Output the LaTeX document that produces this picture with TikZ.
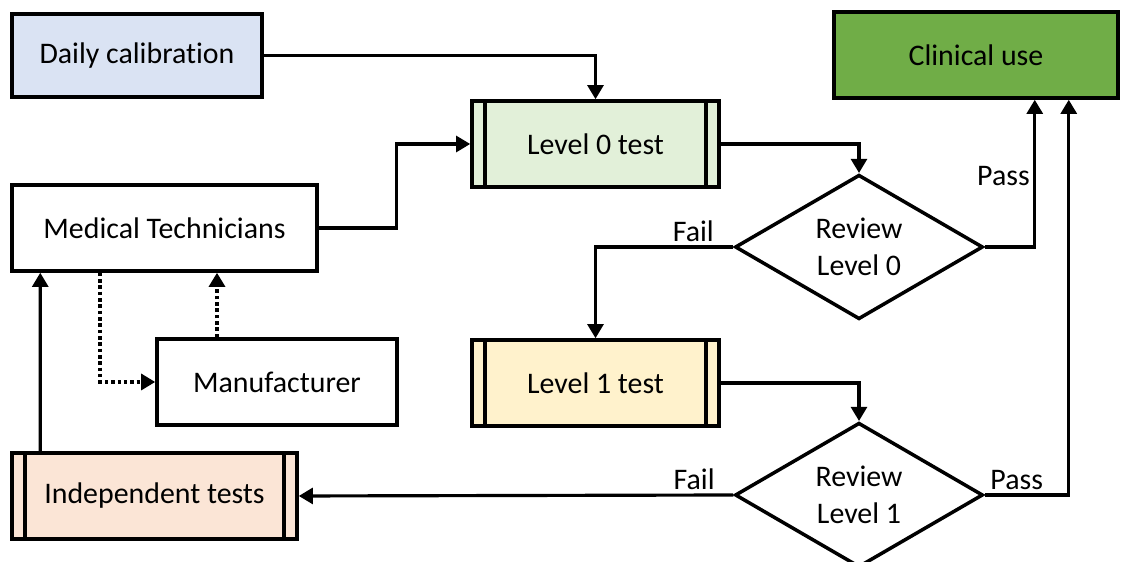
\documentclass[tikz,border=0pt]{standalone}
\usepackage{fontspec}
\setmainfont{Carlito}[Ligatures={NoCommon}]
\definecolor{qaCalib}{HTML}{DAE3F3}
\definecolor{qaClinic}{HTML}{70AD47}
\definecolor{qaLevelA}{HTML}{E2F0D9}
\definecolor{qaLevelB}{HTML}{FFF2CC}
\definecolor{qaIndep}{HTML}{FBE5D6}
\usetikzlibrary{calc,positioning,arrows.meta,shapes.geometric}

\tikzset{
  box/.style={draw, line width=2pt, minimum height=1.72cm, font=\fontsize{17}{20}\selectfont},
  procbox/.style={box, minimum width=4.94cm,
    path picture={
      \draw[line width=2pt] ([xshift=0.26cm]path picture bounding box.north west) -- ([xshift=0.26cm]path picture bounding box.south west);
      \draw[line width=2pt] ([xshift=-0.26cm]path picture bounding box.north east) -- ([xshift=-0.26cm]path picture bounding box.south east);
    }},
  review/.style={draw, diamond, line width=2pt, minimum width=4.96cm, minimum height=2.82cm,
    inner sep=0pt, align=center, font=\fontsize{17}{21}\selectfont},
  flow/.style={line width=1.8pt, -{Triangle[length=8pt,width=9pt]}},
  vendor/.style={line width=2pt, dash pattern=on 2pt off 1.6pt, -{Triangle[length=8pt,width=9pt]}},
  tag/.style={font=\fontsize{17}{20}\selectfont, inner sep=2pt}
}

\begin{document}
\begin{tikzpicture}
  \useasboundingbox (0,0) rectangle (22.48,11.24);

  % boxes
  \node[box, fill=qaCalib, minimum width=5.0cm, minimum height=1.66cm] (calib) at (2.74,10.13) {Daily calibration};
  \node[box, fill=qaClinic, minimum width=5.68cm] (clinic) at (19.52,10.14) {Clinical use};
  \node[procbox, fill=qaLevelA] (lvl0) at (11.91,8.36) {Level 0 test};
  \node[box, minimum width=6.1cm] (tech) at (3.29,6.68) {Medical Technicians};
  \node[review] (rev0) at (17.18,6.30) {Review\\Level 0};
  \node[box, minimum width=4.8cm] (maker) at (5.54,3.60) {Manufacturer};
  \node[procbox, fill=qaLevelB] (lvl1) at (11.91,3.58) {Level 1 test};
  \node[review] (rev1) at (17.18,1.34) {Review\\Level 1};
  \node[procbox, fill=qaIndep, minimum width=5.7cm] (indep) at (3.09,1.32) {Independent tests};

  % connectors
  \draw[flow] (calib.east) -| (lvl0.north);
  \draw[flow] (tech.east) -- ++(1.56,0) |- (lvl0.west);
  \draw[flow] (lvl0.east) -| (rev0.north);
  \draw[flow] (rev0.east) -| node[tag, left, pos=0.74] {Pass} ([xshift=-1.7cm]clinic.south east);
  \draw[flow] (rev0.west) -| node[tag, above, pos=0.145] {Fail} (lvl1.north);
  \draw[flow] (lvl1.east) -| (rev1.north);
  \draw[flow] (rev1.east) -| node[tag, above, pos=0.19] {Pass} ([xshift=-1.02cm]clinic.south east);
  \draw[flow] (rev1.west) -- node[tag, above, pos=0.09] {Fail} (indep.east);
  \draw[flow] ([xshift=0.6cm]indep.north west) -- ([xshift=0.6cm]tech.south west);
  \draw[vendor] ([xshift=1.8cm]tech.south west) |- (maker.west);
  \draw[vendor] ([xshift=-1.2cm]maker.north) -- ([xshift=-1.2cm]maker.north |- tech.south);
\end{tikzpicture}
\end{document}
